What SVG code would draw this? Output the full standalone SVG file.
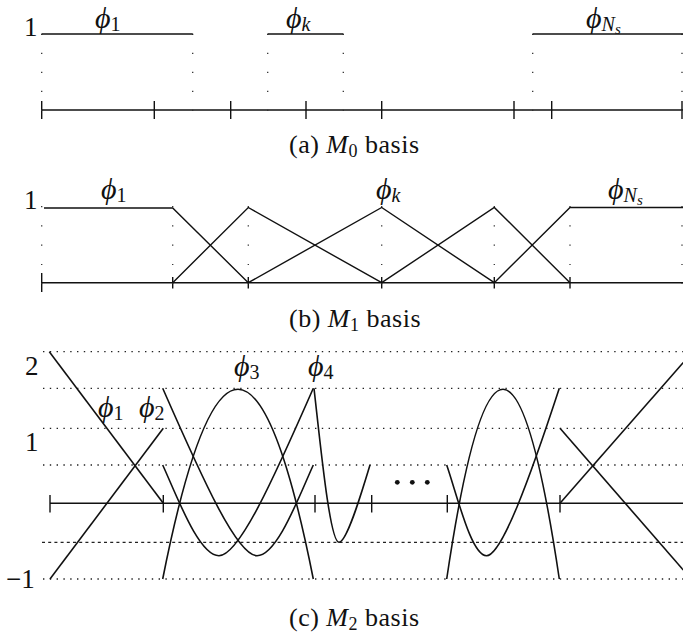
<svg xmlns="http://www.w3.org/2000/svg" width="683" height="635" viewBox="0 0 683 635" font-family="'Liberation Serif', 'DejaVu Serif', serif">
<style>
  .ln{stroke:#111;stroke-width:1.4;fill:none;stroke-linecap:butt}
  .cv{stroke:#111;stroke-width:1.6;fill:none}
  .vdot{stroke:#333;stroke-width:1.3;fill:none}
  .hdot{stroke:#222;stroke-width:1.3;fill:none;stroke-dasharray:1.4 5.4}
  .hdash{stroke:#222;stroke-width:1.3;fill:none;stroke-dasharray:3 3.2}
  .num{font-size:27px;fill:#111}
  .lbl{font-size:30px;font-style:italic;fill:#111}
  .sub{font-size:20px;font-style:normal}
  .subi{font-size:20px;font-style:italic}
  .ssub{font-size:15px;font-style:italic}
  .cap{font-size:26px;letter-spacing:0.5px;fill:#111}
  .capm{font-style:italic}
  .capsub{font-size:18px}
</style>

<g id="panel-a">
  <g id="a-axis">
    <path class="ln" d="M41.7,110 H683"/>
    <path class="ln" d="M41.7,101 V119 M154.3,101 V119 M230.7,101 V119 M306,101 V119 M381.7,101 V119 M514,101 V119 M551.7,101 V119 M682,101 V119"/>
  </g>
  <g id="a-guides" class="vdot" stroke-dasharray="1.2 17.8">
    <path d="M41.7,33.7 V111 M192.7,33.7 V111 M267.7,33.7 V111 M343.3,33.7 V111 M532.7,33.7 V111 M682,33.7 V111"/>
  </g>
  <g id="a-phi1"><path class="ln" d="M41.7,34 H192.7"/><text class="lbl" x="95" y="28">ϕ<tspan class="sub" dy="3">1</tspan></text></g>
  <g id="a-phik"><path class="ln" d="M267.7,34 H343.3"/><text class="lbl" x="286" y="28">ϕ<tspan class="subi" dy="3">k</tspan></text></g>
  <g id="a-phiNs"><path class="ln" d="M532.7,34 H683"/><text class="lbl" x="586" y="28">ϕ<tspan class="subi" dy="3">N</tspan><tspan class="ssub" dy="3">s</tspan></text></g>
  <text class="num" x="24" y="36">1</text>
  <text class="cap" x="289" y="153">(a) <tspan class="capm">M</tspan><tspan class="capsub" dy="4">0</tspan><tspan dy="-4"> basis</tspan></text>
</g>

<g id="panel-b">
  <g id="b-axis">
    <path class="ln" d="M41.7,282.7 H683"/>
    <path class="ln" d="M41.7,273 V292 M172.7,277 V288.5 M248.3,277 V288.5 M381.7,277 V288.5 M494.3,277 V288.5 M570,277 V288.5"/>
  </g>
  <g id="b-guides" class="vdot" stroke-dasharray="1.2 18.1">
    <path d="M41.7,206 V284 M172.7,206 V284 M248.3,206 V284 M381.7,206 V284 M494.3,206 V284 M570,206 V284 M682,206 V284"/>
  </g>
  <g id="b-curves">
    <path class="ln" d="M44,208 H172.7 L248.3,282.7"/>
    <path class="ln" d="M172.7,282.7 L248.3,207.5 L381.7,282.7"/>
    <path class="ln" d="M248.3,282.7 L381.7,207.5 L494.3,282.7"/>
    <path class="ln" d="M381.7,282.7 L494.3,207.5 L570,282.7"/>
    <path class="ln" d="M494.3,282.7 L570,207.5 H683"/>
  </g>
  <text class="num" x="24" y="209">1</text>
  <text class="lbl" x="101" y="199">ϕ<tspan class="sub" dy="3">1</tspan></text>
  <text class="lbl" x="376" y="199">ϕ<tspan class="subi" dy="3">k</tspan></text>
  <text class="lbl" x="608" y="199">ϕ<tspan class="subi" dy="3">N</tspan><tspan class="ssub" dy="3">s</tspan></text>
  <text class="cap" x="289" y="327">(b) <tspan class="capm">M</tspan><tspan class="capsub" dy="4">1</tspan><tspan dy="-4"> basis</tspan></text>
</g>

<g id="panel-c">
  <g id="c-grid">
    <path class="hdot" d="M43,351.7 H683 M43,388.3 H683 M43,428.3 H683 M43,465 H683 M43,579 H683"/>
    <path class="hdash" d="M42,542.3 H683"/>
  </g>
  <g id="c-axis">
    <path class="ln" d="M50,503.3 H683"/>
    <path class="ln" d="M50,495 V512.5 M163.3,495 V512.5 M315,495 V512.5 M371.7,495 V512.5 M447.3,495 V512.5 M560,495 V512.5"/>
  </g>
  <g id="c-curves">
    <path class="cv" d="M49.3,351.7 L163.3,503.3"/>
    <path class="cv" d="M50,579 L163.3,428.3"/>
    <path class="cv" d="M162.7,579 Q238,199.6 313.3,579"/>
    <path class="cv" d="M162.7,465 C177.7,498 199,555.7 219,555.7 C239,555.7 273.3,479.5 313.3,388.3"/>
    <path class="cv" d="M313.3,465 C298.3,498 277,555.7 257,555.7 C237,555.7 202.7,479.5 162.7,388.3"/>
    <path class="cv" d="M314,388.3 C321,450 330,542.3 339,542.3 C347,542.3 362,491.4 370,465"/>
    <path class="cv" d="M446.7,579 Q503,199.6 559.3,579"/>
    <path class="cv" d="M446.7,465 C457.9,498 471.5,555.7 486.5,555.7 C501.5,555.7 529.4,479.5 559.3,388.3"/>
    <path class="cv" d="M560,503.3 L683.3,362.5"/>
    <path class="cv" d="M560,428.3 L683.3,570"/>
  </g>
  <g id="c-ellipsis" fill="#111">
    <circle cx="397.3" cy="482.3" r="2.4"/>
    <circle cx="412.3" cy="482.3" r="2.4"/>
    <circle cx="427.3" cy="482.3" r="2.4"/>
  </g>
  <text class="num" x="25" y="375">2</text>
  <text class="num" x="25" y="451">1</text>
  <text class="num" x="6" y="588">−1</text>
  <text class="lbl" x="98" y="417">ϕ<tspan class="sub" dy="3">1</tspan></text>
  <text class="lbl" x="139" y="417">ϕ<tspan class="sub" dy="3">2</tspan></text>
  <text class="lbl" x="234" y="376">ϕ<tspan class="sub" dy="3">3</tspan></text>
  <text class="lbl" x="308" y="376">ϕ<tspan class="sub" dy="3">4</tspan></text>
  <text class="cap" x="289" y="626">(c) <tspan class="capm">M</tspan><tspan class="capsub" dy="4">2</tspan><tspan dy="-4"> basis</tspan></text>
</g>
</svg>
